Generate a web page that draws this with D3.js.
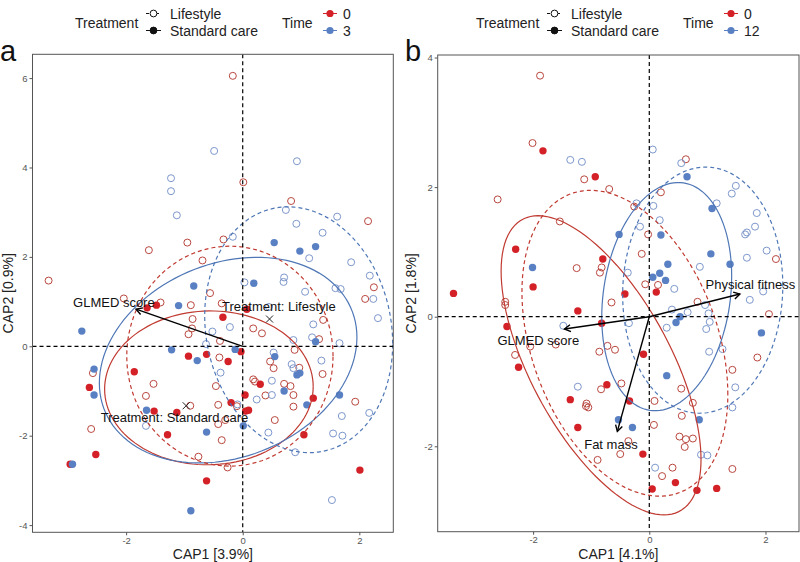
<!DOCTYPE html>
<html>
<head>
<meta charset="utf-8">
<script src="https://cdn.jsdelivr.net/npm/d3@7"></script>
<style>
body { margin: 0; background: #fff; }
svg text { font-family: "Liberation Sans", Arial, Helvetica, sans-serif; }
</style>
</head>
<body>
<svg id="chart" width="800" height="562"></svg>
<script>

// ---- panel a data (CAP1, CAP2) ----
var aLife0 = [[-0.17,6.05],[0.01,3.67],[0.83,3.25],[2.15,2.80],[-0.95,2.32],[-0.33,2.39],[-1.61,2.15],[-0.69,1.92],
  [-3.33,1.47],[-0.56,1.19],[2.25,1.32],[2.10,1.06],[-2.04,1.07],[-1.41,0.98],[-0.89,0.92],[-0.86,0.61],[-0.87,0.40],
  [-0.93,0.27],[-2.57,-0.60],[-1.53,-0.84],[-1.66,-1.11],[-0.90,-1.33],[-2.60,-1.85],[-0.36,0.96],[0.18,0.40],[0.33,0.29],
  [1.38,0.59],[1.31,0.16],[-0.40,-0.25],[-0.46,-0.89],[0.47,-0.34],[0.53,-0.49],[0.89,-0.08],[0.97,-0.48],[1.37,-0.62],
  [0.18,-0.74],[0.21,-0.79],[0.71,-0.84],[0.82,-0.89],[0.87,-1.09],[0.39,-1.10],[1.93,-1.24],[-0.42,-1.31],[-0.30,-1.65],
  [0.55,-1.65],[-0.42,-1.74],[-0.36,-2.10],[-0.76,-2.47],[-0.26,-2.71],[0.87,-1.35],[-0.39,0.12],[-0.10,-1.34]];
var aLife3 = [[-0.49,4.37],[-1.23,3.76],[-1.23,3.47],[-1.13,2.93],[0.93,4.14],[0.74,3.05],[0.92,2.74],[1.62,2.90],
  [1.37,2.54],[-0.17,2.45],[1.14,1.97],[1.86,1.88],[0.03,1.43],[0.70,1.44],[0.71,1.54],[1.59,1.30],[1.68,1.28],[2.18,1.58],
  [1.07,1.22],[2.24,1.06],[2.32,0.63],[-0.63,0.05],[-0.22,0.43],[-0.52,0.33],[1.21,0.49],[1.19,0.20],[0.87,0.14],[1.66,0.07],
  [-0.38,-0.59],[0.84,-0.40],[0.87,-0.49],[0.50,-0.77],[0.50,-1.09],[0.24,-1.19],[1.70,-1.56],[2.17,-1.49],[-0.09,-1.30],
  [0.44,-1.93],[1.55,-1.95],[-1.66,-1.78],[0.90,-2.37],[1.71,-2.00],[1.53,-3.44],[1.35,-0.32],[0.53,-0.14],[0.45,0.88]];
var aStd0 = [[-1.64,0.86],[-1.48,0.92],[-0.93,-0.22],[-0.62,-0.18],[-2.63,-0.92],[-1.86,-0.57],[-1.52,-1.45],[-1.13,-1.48],
  [-1.29,-1.98],[0.07,0.83],[-0.34,0.65],[-0.03,-0.12],[-0.25,-0.34],[0.30,-0.85],[0.04,-1.09],[1.21,-1.16],[-0.20,-1.26],
  [0.05,-1.45],[0.10,-1.43],[1.05,-1.98],[-0.62,-3.01],[-2.96,-2.64],[-2.52,-2.42],[2.01,-2.77]];
var aStd3 = [[0.54,2.32],[0.98,2.13],[1.25,2.23],[-0.84,1.35],[0.19,1.41],[-1.10,0.91],[-2.76,0.34],[-1.22,-0.08],
  [-0.78,-0.32],[-2.55,-0.51],[-2.55,-1.09],[-1.65,-1.43],[-0.62,-1.92],[1.25,0.10],[-0.13,-0.07],[0.55,-0.23],[0.93,-0.64],
  [0.98,-0.60],[0.71,-1.00],[1.10,-1.31],[1.66,-1.09],[0.01,-1.78],[-0.89,-3.68],[-2.92,-2.64]];

// ---- panel b data ----
var bLife0 = [[-1.88,3.72],[-2.01,2.68],[-1.12,2.12],[-0.69,1.97],[-2.61,1.81],[-1.54,1.47],[0.63,2.43],[0.20,1.92],
  [-0.26,1.70],[-0.02,1.27],[2.18,0.89],[-0.13,0.97],[-0.82,0.76],[-0.85,0.68],[-1.25,0.75],[-0.07,0.50],[0.15,0.49],
  [-0.65,0.22],[2.06,0.04],[0.83,0.23],[-2.48,0.23],[-2.48,0.18],[-2.05,-0.46],[-1.61,-0.43],[-2.31,-0.59],[-0.86,-0.54],
  [-0.72,-0.45],[-0.59,-0.51],[1.86,-0.63],[1.43,-0.82],[0.55,-1.11],[-0.48,-1.03],[-0.83,-1.12],[-1.08,-1.34],[-1.05,-1.40],
  [-1.09,-1.38],[0.09,-1.30],[0.75,-1.33],[0.56,-1.53],[0.08,-1.67],[0.52,-1.85],[0.63,-1.89],[0.75,-1.88],[0.61,-2.01],
  [-0.36,-1.92],[-0.50,-2.12],[-0.89,-2.21],[0.40,-2.33],[0.22,-2.46],[1.43,-2.35]];
var bLife12 = [[-1.36,2.42],[-1.16,2.39],[0.06,2.58],[0.55,2.37],[1.49,2.02],[1.42,1.90],[0.07,1.71],[-0.22,1.75],
  [1.16,1.75],[1.85,1.60],[0.18,1.49],[-0.16,1.39],[1.68,1.30],[1.65,1.27],[1.82,1.39],[2.02,1.02],[1.68,0.91],[0.87,0.77],
  [-0.37,0.68],[0.43,0.43],[1.96,0.39],[1.73,0.26],[0.96,0.18],[1.02,0.05],[1.04,-0.08],[0.66,0.07],[0.39,0.11],[-0.35,-0.10],
  [0.98,-0.19],[-1.48,-0.14],[0.30,-0.17],[1.03,-0.54],[1.26,-0.50],[1.48,-1.09],[1.43,-1.40],[-1.23,-1.08],[0.89,-2.13],
  [1.00,-2.14],[0.10,-2.33]];
var bStd0 = [[-1.83,2.56],[-0.93,2.16],[-2.30,1.04],[-0.80,0.89],[0.12,0.38],[-2.00,0.46],[-3.37,0.36],[-0.42,0.35],
  [-1.23,0.09],[-2.45,-0.15],[-0.82,-0.10],[-2.25,-0.78],[-0.10,-0.58],[-0.73,-1.05],[-1.36,-1.28],[-0.34,-1.30],
  [-1.23,-1.71],[-0.11,-2.12],[0.45,-2.56],[0.05,-2.66],[0.82,-2.68],[1.16,-2.65]];
var bStd12 = [[0.65,2.16],[1.08,1.67],[-0.52,1.27],[0.20,1.26],[1.06,0.97],[1.39,0.81],[-2.01,0.76],[0.32,0.81],
  [0.18,0.67],[0.28,0.56],[0.06,0.61],[0.53,0.00],[0.46,-0.09],[1.93,-0.25],[0.30,-0.91],[0.86,-1.59],[-0.53,-1.59],[-0.29,-1.71]];

// ellipses: centre + covariance-like shape (data units)
var aEllipses = [
  {treat:'Standard care', time:0, cx:-0.58, cy:-0.93, sxx:3.20, sxy:0.05, syy:2.96},
  {treat:'Standard care', time:1, cx:-0.25, cy:-0.31, sxx:4.88, sxy:1.13, syy:5.29},
  {treat:'Lifestyle',     time:0, cx:-0.22, cy:-0.22, sxx:3.13, sxy:0.00, syy:6.05},
  {treat:'Lifestyle',     time:1, cx:0.96,  cy:0.37,  sxx:2.60, sxy:-0.50, syy:7.56}];
var bEllipses = [
  {treat:'Standard care', time:0, cx:-0.83, cy:-0.75, sxx:2.96, sxy:-2.50, syy:5.33},
  {treat:'Standard care', time:1, cx:0.30,  cy:0.31,  sxx:1.25, sxy:0.35, syy:3.10},
  {treat:'Lifestyle',     time:0, cx:-0.42, cy:-0.41, sxx:3.14, sxy:-1.40, syy:5.57},
  {treat:'Lifestyle',     time:1, cx:0.92,  cy:0.41,  sxx:1.90, sxy:0.10, syy:3.61}];

// biplot arrows and labels
var aArrows = [{name:'GLMED score', x:-1.83, y:0.83, lx:-2.21, ly:0.98}];
var bArrows = [{name:'Physical fitness', x:1.56, y:0.35, lx:1.74, ly:0.50},
               {name:'GLMED score', x:-1.46, y:-0.19, lx:-1.91, ly:-0.36},
               {name:'Fat mass', x:-0.55, y:-1.77, lx:-0.66, ly:-1.97}];
var aCentroids = [{name:'Treatment: Lifestyle', x:0.46, y:0.61, lx:0.62, ly:0.89},
                  {name:'Treatment: Standard care', x:-0.97, y:-1.33, lx:-1.17, ly:-1.59}];

var xTicks = [-2, 0, 2];
var aYTicks = [-4, -2, 0, 2, 4, 6];
var bYTicks = [-2, 0, 2, 4];
var timeLevelsA = ['0', '3'];
var timeLevelsB = ['0', '12'];

var RED = '#d42027', BLUE = '#5a80c4';
var RED_OPEN = '#b9473f', BLUE_OPEN = '#7d97cb';
var RED_LINE = '#c03a31', BLUE_LINE = '#4f77b6';

var svg = d3.select('#chart');

function ellipsePts(e){
    var a = Math.sqrt(e.sxx), b = e.sxy / a, c = Math.sqrt(e.syy - b*b);
    return d3.range(0, 121).map(function(i){
        var t = i / 120 * 2 * Math.PI;
        return {x: e.cx + a*Math.cos(t), y: e.cy + b*Math.cos(t) + c*Math.sin(t)};
    });
}

function drawPanel(p){
    var g = svg.append('g');

    var xScale = d3.scaleLinear().domain(p.xDomain).range([p.left, p.right]);
    var yScale = d3.scaleLinear().domain(p.yDomain).range([p.bottom, p.top]);

    // clip
    g.append('clipPath').attr('id', 'clip' + p.letter)
        .append('rect')
        .attr('x', p.left).attr('y', p.top)
        .attr('width', p.right - p.left).attr('height', p.bottom - p.top);

    var plot = g.append('g').attr('clip-path', 'url(#clip' + p.letter + ')');

    // points: open (Lifestyle) first, then filled (Standard care)
    p.groups.forEach(function(grp){
        plot.selectAll(null)
            .data(grp.pts)
            .enter().append('circle')
            .attr('cx', d => xScale(d[0]))
            .attr('cy', d => yScale(d[1]))
            .attr('r', grp.filled ? 3.7 : 3.5)
            .attr('fill', grp.filled ? (grp.time ? BLUE : RED) : 'none')
            .attr('stroke', grp.filled ? 'none' : (grp.time ? BLUE_OPEN : RED_OPEN))
            .attr('stroke-width', 1);
    });

    // ellipses
    var ellLine = d3.line().x(d => xScale(d.x)).y(d => yScale(d.y));
    p.ellipses.forEach(function(e){
        plot.append('path')
            .attr('d', ellLine(ellipsePts(e)))
            .attr('fill', 'none')
            .attr('stroke', e.time ? BLUE_LINE : RED_LINE)
            .attr('stroke-width', 1.2)
            .attr('stroke-dasharray', e.treat == 'Lifestyle' ? '4,3' : null);
    });

    // zero lines
    plot.append('line')
        .attr('x1', xScale(0)).attr('x2', xScale(0))
        .attr('y1', p.top).attr('y2', p.bottom)
        .attr('stroke', 'black').attr('stroke-width', 1.2).attr('stroke-dasharray', '4,3');
    plot.append('line')
        .attr('y1', yScale(0)).attr('y2', yScale(0))
        .attr('x1', p.left).attr('x2', p.right)
        .attr('stroke', 'black').attr('stroke-width', 1.2).attr('stroke-dasharray', '4,3');

    // centroids
    (p.centroids || []).forEach(function(c){
        var cx = xScale(c.x), cy = yScale(c.y);
        plot.append('path')
            .attr('d', `M${cx-3.5},${cy-3.5}L${cx+3.5},${cy+3.5}M${cx-3.5},${cy+3.5}L${cx+3.5},${cy-3.5}`)
            .attr('stroke', '#222').attr('stroke-width', 1);
        plot.append('text')
            .attr('x', xScale(c.lx)).attr('y', yScale(c.ly))
            .attr('text-anchor', 'middle').attr('dominant-baseline', 'central')
            .style('font-size', '13px').attr('fill', '#111')
            .text(c.name);
    });

    // arrows
    p.arrows.forEach(function(a){
        var x1 = xScale(0), y1 = yScale(0), x2 = xScale(a.x), y2 = yScale(a.y);
        var ang = Math.atan2(y2 - y1, x2 - x1), L = 7;
        plot.append('line')
            .attr('x1', x1).attr('y1', y1).attr('x2', x2).attr('y2', y2)
            .attr('stroke', 'black').attr('stroke-width', 1.4);
        plot.append('path')
            .attr('d', `M${x2 - L*Math.cos(ang - Math.PI/6)},${y2 - L*Math.sin(ang - Math.PI/6)}L${x2},${y2}L${x2 - L*Math.cos(ang + Math.PI/6)},${y2 - L*Math.sin(ang + Math.PI/6)}`)
            .attr('fill', 'none').attr('stroke', 'black').attr('stroke-width', 1.4);
        plot.append('text')
            .attr('x', xScale(a.lx)).attr('y', yScale(a.ly))
            .attr('text-anchor', 'middle').attr('dominant-baseline', 'central')
            .style('font-size', '13px').attr('fill', '#111')
            .text(a.name);
    });

    // bounding box
    g.append('rect')
        .attr('x', p.left).attr('y', p.top)
        .attr('width', p.right - p.left).attr('height', p.bottom - p.top)
        .attr('fill', 'none').attr('stroke', '#555').attr('stroke-width', 1);

    // axes
    var xAxis = d3.axisBottom(xScale).tickValues(xTicks).tickSize(3).tickPadding(2).tickFormat(d => d);
    var yAxis = d3.axisLeft(yScale).tickValues(p.yTicks).tickSize(3).tickPadding(2).tickFormat(d => d);
    var xg = g.append('g').attr('transform', `translate(0,${p.bottom})`).call(xAxis);
    var yg = g.append('g').attr('transform', `translate(${p.left},0)`).call(yAxis);
    [xg, yg].forEach(function(ax){
        ax.select('.domain').remove();
        ax.selectAll('line').attr('stroke', '#555');
        ax.selectAll('text').attr('fill', '#555').style('font-size', '9.5px')
            .style('font-family', '"Liberation Sans", Arial, sans-serif');
    });

    // axis titles
    g.append('text')
        .attr('x', (p.left + p.right) / 2).attr('y', 559)
        .attr('text-anchor', 'middle').style('font-size', '14px').attr('fill', '#222')
        .text(p.xTitle);
    g.append('text')
        .attr('transform', `translate(${p.yTitleX},${(p.top + p.bottom) / 2}) rotate(-90)`)
        .attr('text-anchor', 'middle').style('font-size', '14px').attr('fill', '#222')
        .text(p.yTitle);

    // panel letter
    g.append('text')
        .attr('x', p.letterX).attr('y', 61)
        .style('font-size', '29px').attr('fill', '#111')
        .text(p.letter);

    // legend
    var lg = g.append('g').attr('transform', `translate(${p.legendX},0)`);
    lg.append('text').attr('x', 0).attr('y', 27.5).style('font-size', '14px').attr('fill', '#222').text('Treatment');
    var keyRows = [{label:'Lifestyle', filled:false, dash:'3,2', y:13.5}, {label:'Standard care', filled:true, dash:null, y:30.5}];
    keyRows.forEach(function(k){
        lg.append('line').attr('x1', 71).attr('x2', 86).attr('y1', k.y).attr('y2', k.y)
            .attr('stroke', '#111').attr('stroke-width', 1).attr('stroke-dasharray', k.dash);
        lg.append('circle').attr('cx', 78.5).attr('cy', k.y).attr('r', 3.4)
            .attr('fill', k.filled ? '#111' : '#fff').attr('stroke', '#111').attr('stroke-width', 1);
        lg.append('text').attr('x', 95).attr('y', k.y + 5).style('font-size', '14px').attr('fill', '#222').text(k.label);
    });
    lg.append('text').attr('x', 207).attr('y', 27.5).style('font-size', '14px').attr('fill', '#222').text('Time');
    p.timeLevels.forEach(function(t, i){
        var y = i ? 30.5 : 13.5, col = i ? BLUE : RED;
        lg.append('line').attr('x1', 248).attr('x2', 262).attr('y1', y).attr('y2', y)
            .attr('stroke', col).attr('stroke-width', 1);
        lg.append('circle').attr('cx', 255).attr('cy', y).attr('r', 3.6).attr('fill', col);
        lg.append('text').attr('x', 268).attr('y', y + 5).style('font-size', '14px').attr('fill', '#222').text(t);
    });
}

drawPanel({
    letter: 'a', letterX: 0, legendX: 75,
    left: 32.5, right: 393.3, top: 54.3, bottom: 532.3,
    xDomain: [-3.606, 2.583], yDomain: [-4.161, 6.532],
    yTicks: aYTicks, timeLevels: timeLevelsA,
    xTitle: 'CAP1 [3.9%]', yTitle: 'CAP2 [0.9%]', yTitleX: 13,
    groups: [{pts:aLife0, filled:false, time:0}, {pts:aLife3, filled:false, time:1},
             {pts:aStd0, filled:true, time:0}, {pts:aStd3, filled:true, time:1}],
    ellipses: aEllipses, arrows: aArrows, centroids: aCentroids
});

drawPanel({
    letter: 'b', letterX: 405, legendX: 476,
    left: 437.7, right: 799, top: 55, bottom: 531.7,
    xDomain: [-3.642, 2.577], yDomain: [-3.318, 4.039],
    yTicks: bYTicks, timeLevels: timeLevelsB,
    xTitle: 'CAP1 [4.1%]', yTitle: 'CAP2 [1.8%]', yTitleX: 416,
    groups: [{pts:bLife0, filled:false, time:0}, {pts:bLife12, filled:false, time:1},
             {pts:bStd0, filled:true, time:0}, {pts:bStd12, filled:true, time:1}],
    ellipses: bEllipses, arrows: bArrows, centroids: []
});

</script>
</body>
</html>
